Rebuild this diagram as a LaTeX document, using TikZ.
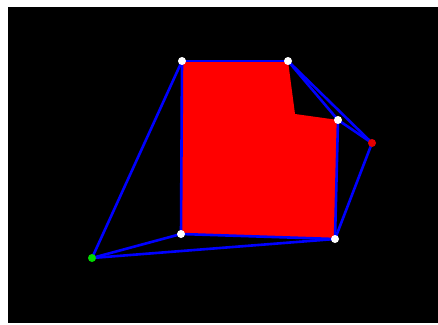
\documentclass[tikz,border=0pt]{standalone}
\begin{document}
\begin{tikzpicture}[x=1pt,y=-1pt,
  edge/.style={draw=blue,line width=2.6pt,line cap=round,line join=round},
  dot/.style={circle,fill=white,inner sep=0pt,minimum size=8pt},
  gdot/.style={circle,fill=green!85!black,inner sep=0pt,minimum size=8pt},
  rdot/.style={circle,fill=red!90!black,inner sep=0pt,minimum size=8pt}]
\useasboundingbox (0,0) rectangle (438,324);
\fill[white] (0,0) rectangle (438,324);
\fill[black] (8,7) rectangle (438,323);
\coordinate (tl) at (182,61);
\coordinate (tr) at (288,61);
\coordinate (notch) at (295,114);
\coordinate (mr) at (338,120);
\coordinate (rd) at (372,143);
\coordinate (br) at (335,239);
\coordinate (bl) at (181,234);
\coordinate (gr) at (92,258);
\fill[red] (tl) -- (tr) -- (notch) -- (mr) -- (br) -- (bl) -- cycle;
\draw[edge] (tl) -- (tr);
\draw[edge] (tl) -- (bl);
\draw[edge] (tl) -- (gr);
\draw[edge] (bl) -- (gr);
\draw[edge] (br) -- (gr);
\draw[edge] (bl) -- (br);
\draw[edge] (tr) -- (mr);
\draw[edge] (tr) -- (rd);
\draw[edge] (mr) -- (rd);
\draw[edge] (mr) -- (br);
\draw[edge] (rd) -- (br);
\node[dot] (ntl) at (tl) {};
\node[dot] (ntr) at (tr) {};
\node[dot] (nmr) at (mr) {};
\node[dot] (nbr) at (br) {};
\node[dot] (nbl) at (bl) {};
\node[rdot] (nrd) at (rd) {};
\node[gdot] (ngr) at (gr) {};
\end{tikzpicture}
\end{document}
